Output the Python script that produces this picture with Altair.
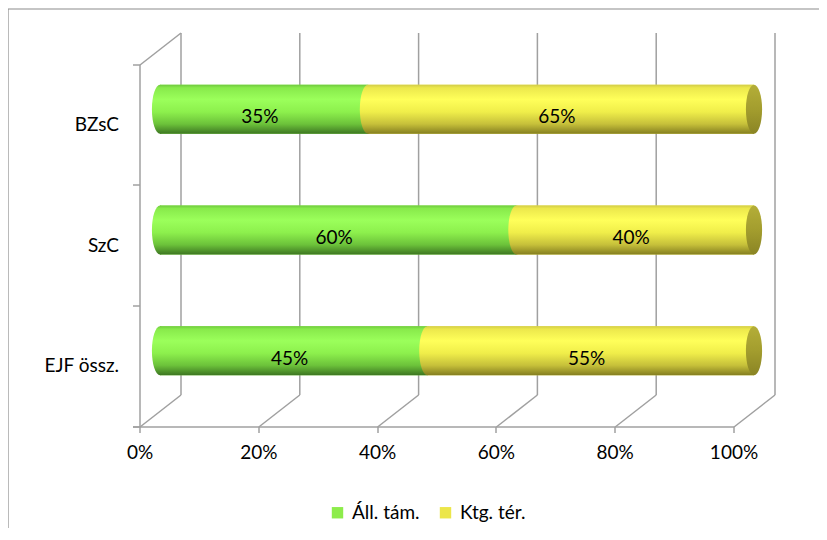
import altair as alt
import pandas as pd

categories = ["BZsC", "SzC", "EJF össz."]
series = ["Áll. tám.", "Ktg. tér."]
all_tam = [35, 60, 45]
ktg_ter = [65, 40, 55]
tick_values = [0, 0.2, 0.4, 0.6, 0.8, 1.0]

flat_colors = ["#8dec4b", "#ece64a"]

rows = []
for i, c in enumerate(categories):
    start = 0.0
    for s, vals in zip(series, [all_tam, ktg_ter]):
        v = vals[i] / 100
        rows.append(dict(cat=c, series=s, start=start, end=start + v,
                         mid=start + v / 2, label=f"{vals[i]}%"))
        start += v
df = pd.DataFrame(rows)
ticks_df = pd.DataFrame({"t": tick_values})
one = pd.DataFrame({"a": [0]})

W, H = 594, 362
FX, FY = -20, 16   # front plane offset from bar plane
BX, BY = 21, -16   # back plane offset from bar plane
GRID = "#a0a0a0"
FONT = "Lato"
FS = 19

xs = alt.Scale(domain=[0, 1], nice=False)
ys = alt.Scale(domain=categories, paddingInner=0, paddingOuter=0)

x_axis = alt.Axis(values=tick_values, format=".0%", grid=False,
                  domainColor=GRID, domainWidth=1.5, tickColor=GRID,
                  tickWidth=1.5, tickSize=6, labelFont=FONT, labelFlush=False,
                  labelFontSize=FS, labelColor="#000000",
                  labelPadding=11, offset=FY - FX, translate=FX, title=None)
y_axis = alt.Axis(domainColor=GRID, domainWidth=1.5, tickColor=GRID,
                  tickWidth=1.5, tickSize=7, bandPosition=1,
                  tickExtra=True, labelFont=FONT, labelFontSize=FS,
                  labelColor="#000000", labelPadding=14,
                  offset=FY - FX, translate=FY, title=None)


def X(field):
    return alt.X(field, scale=xs, title=None, axis=x_axis)


def Y(field):
    return alt.Y(field, scale=ys, title=None, axis=y_axis, sort=categories)


ELLIPSE = "M0,-1 A0.33,1 0 1,1 0,1 A0.33,1 0 1,1 0,-1 Z"
BAR_H = 49


def grad(stops):
    return alt.LinearGradient(
        gradient="linear", x1=0, x2=0, y1=0, y2=1,
        stops=[alt.GradientStop(offset=o, color=c) for o, c in stops])


green_grad = grad([(0, "#6fc93e"), (0.06, "#88ea4b"), (0.3, "#9bff5b"),
                   (0.55, "#8df04d"), (0.8, "#6cc23a"), (1, "#3d7622")])
yellow_grad = grad([(0, "#d2cc48"), (0.06, "#ece84c"), (0.3, "#ffff5a"),
                    (0.55, "#f0ee4a"), (0.8, "#c6c03a"), (1, "#847e20")])
cap_grad = grad([(0, "#b4ae38"), (0.5, "#a39d2e"), (1, "#8a8424")])

base = alt.Chart(df)

# back wall vertical gridlines
back = alt.Chart(ticks_df).mark_rule(color=GRID, strokeWidth=1.5, xOffset=BX).encode(
    x=X("t:Q"), y=alt.value(BY), y2=alt.value(H + BY))

# floor diagonals
diag = alt.Chart(ticks_df).mark_rule(color=GRID, strokeWidth=1.5, xOffset=FX, x2Offset=BX).encode(
    x=X("t:Q"), x2="t:Q", y=alt.value(H + FY), y2=alt.value(H + BY))

# top-left diagonal of side wall
topdiag = alt.Chart(one).mark_rule(color=GRID, strokeWidth=1.5, xOffset=FX, x2Offset=BX).encode(
    x=X("a:Q"), x2="a:Q", y=alt.value(FY), y2=alt.value(BY))

# small extension of floor line to the left
floorext = alt.Chart(one).mark_rule(color=GRID, strokeWidth=1.5, xOffset=FX - 7, x2Offset=FX).encode(
    x=X("a:Q"), x2="a:Q", y=alt.value(H + FY))

# outer chart border (top, left, right)
border_top = alt.Chart(one).mark_rule(color="#8c8c8c", strokeWidth=1.2).encode(
    x=alt.value(-152), x2=alt.value(662), y=alt.value(-40))
border_left = alt.Chart(one).mark_rule(color="#8c8c8c", strokeWidth=1.2).encode(
    x=alt.value(-152), y=alt.value(-40), y2=alt.value(495))
border_right = alt.Chart(one).mark_rule(color="#8c8c8c", strokeWidth=1.2).encode(
    x=alt.value(662), y=alt.value(-40), y2=alt.value(495))

# base flat bars (carry legend)
bars = base.mark_bar(height=BAR_H).encode(
    x=X("start:Q"), x2="end:Q", y=Y("cat:N"),
    color=alt.Color("series:N", scale=alt.Scale(domain=series, range=flat_colors),
                    legend=alt.Legend(title=None, orient="none", direction="horizontal",
                                      legendX=168, legendY=454, symbolType="square",
                                      symbolSize=130, symbolStrokeWidth=0,
                                      labelFont=FONT, labelFontSize=FS,
                                      labelColor="#000000", columnPadding=16,
                                      labelOffset=5)),
)


def seg(name, g):
    d = base.transform_filter(alt.datum.series == name)
    body = d.mark_bar(height=BAR_H, color=g).encode(
        x=X("start:Q"), x2="end:Q", y=Y("cat:N"))
    startcap = d.mark_point(shape=ELLIPSE, size=BAR_H * BAR_H, filled=True,
                            fill=g, strokeWidth=0, opacity=1).encode(
        x=X("start:Q"), y=Y("cat:N"))
    return body, startcap


g_body, g_start = seg(series[0], green_grad)
y_body, y_start = seg(series[1], yellow_grad)

endcap = base.transform_filter(alt.datum.series == series[1]).mark_point(
    shape=ELLIPSE, size=BAR_H * BAR_H, filled=True, fill=cap_grad,
    strokeWidth=0, opacity=1).encode(x=X("end:Q"), y=Y("cat:N"))

labels = base.mark_text(font=FONT, fontSize=FS, color="#000000", dx=-4, dy=8).encode(
    x=X("mid:Q"), y=Y("cat:N"), text="label:N")

chart = alt.layer(
    border_top, border_left, border_right,
    back, diag, topdiag, floorext,
    bars, g_body, g_start, y_body, y_start, endcap, labels,
).properties(
    width=W, height=H,
    autosize=alt.AutoSizeParams(type="none"),
    padding={"left": 152, "top": 41, "right": 65, "bottom": 117},
).configure_view(stroke=None)

chart.save("out.html", embed_options={"renderer": "svg", "actions": False})
